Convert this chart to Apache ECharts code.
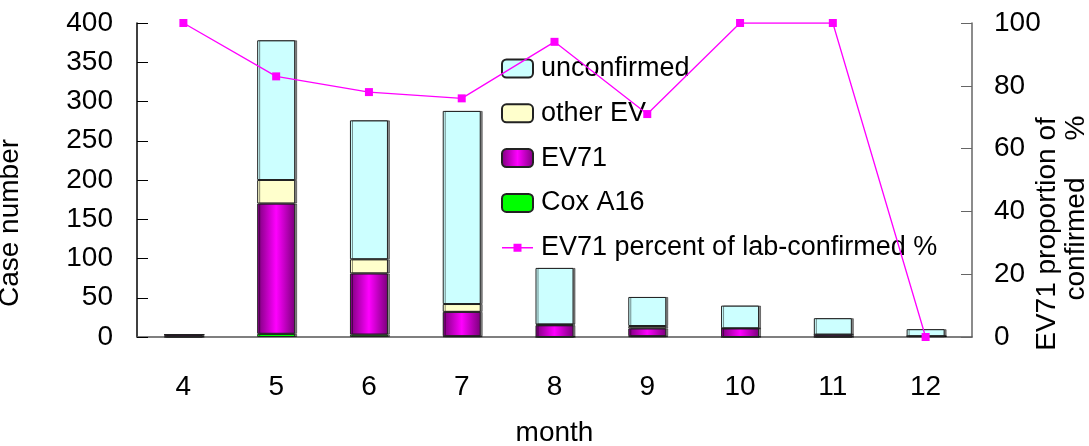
<!DOCTYPE html>
<html>
<head>
<meta charset="utf-8">
<script src="https://cdn.jsdelivr.net/npm/echarts@6/dist/echarts.min.js"></script>
<style>
html,body{margin:0;padding:0;background:#fff;}
#chart{width:1089px;height:446px;}
</style>
</head>
<body>
<div id="chart"></div>
<script>
var months = ['4', '5', '6', '7', '8', '9', '10', '11', '12'];
var coxA16 = [0, 4, 3, 1, 0, 1, 0, 0, 1];
var ev71 = [3, 166, 78, 31, 15, 10, 11, 3, 0];
var otherEV = [0, 30, 18, 10, 1, 3, 0, 0, 0];
var unconfirmed = [0, 178, 177, 246, 72, 37, 29, 21, 9];
var ev71Percent = [100, 83, 78, 76, 94, 71, 100, 100, 0];
var leftTicks = [0, 400, 50];
var rightTicks = [0, 100, 20];

var FONT = 'Liberation Sans, Arial, sans-serif';
var chart = echarts.init(document.getElementById('chart'));

function barStyle(color) {
  return {
    color: color,
    borderColor: '#222',
    borderWidth: 1,
    shadowColor: 'rgba(0,0,0,0.45)',
    shadowOffsetX: 2,
    shadowOffsetY: 0,
    shadowBlur: 0
  };
}

var ev71Grad = new echarts.graphic.LinearGradient(0, 0, 1, 0, [
  {offset: 0, color: '#7a007a'},
  {offset: 0.5, color: '#ff00ff'},
  {offset: 1, color: '#7a007a'}
]);

var lineIcon = 'path://M0,3.75H11.5V0.5H19.5V3.75H31V5.25H19.5V8.5H11.5V5.25H0Z';

var option = {
  backgroundColor: '#fff',
  animation: false,
  textStyle: {fontFamily: FONT, color: '#000'},
  grid: {left: 137, right: 117, top: 23, bottom: 109, containLabel: false, outerBoundsMode: 'none'},
  legend: {
    orient: 'vertical',
    left: 496,
    top: 50,
    itemWidth: 31,
    itemHeight: 18,
    itemGap: 17.8,
    textStyle: {fontFamily: FONT, fontSize: 27, color: '#000', padding: [0, 0, 0, 3]},
    data: [
      'unconfirmed', 'other EV', 'EV71', 'Cox A16',
      {name: 'EV71 percent of lab-confirmed %', icon: lineIcon}
    ]
  },
  xAxis: {
    type: 'category',
    data: months,
    axisLine: {lineStyle: {color: '#555', width: 1.5}},
    axisTick: {inside: true, length: 9, lineStyle: {color: '#555'}},
    axisLabel: {fontSize: 28, color: '#000', fontFamily: FONT, margin: 36},
    name: 'month',
    nameLocation: 'middle',
    nameGap: 82,
    nameTextStyle: {fontSize: 28, color: '#000', fontFamily: FONT}
  },
  yAxis: [
    {
      type: 'value',
      min: leftTicks[0], max: leftTicks[1], interval: leftTicks[2],
      axisLine: {show: true, lineStyle: {color: '#000', width: 1.5}},
      axisTick: {show: true, inside: true, length: 11, lineStyle: {color: '#000'}},
      splitLine: {show: false},
      axisLabel: {fontSize: 28, color: '#000', fontFamily: FONT, margin: 24}
    },
    {
      type: 'value',
      min: rightTicks[0], max: rightTicks[1], interval: rightTicks[2],
      position: 'right',
      axisLine: {show: true, lineStyle: {color: '#666', width: 1.5}},
      axisTick: {show: true, inside: true, length: 11, lineStyle: {color: '#666'}},
      splitLine: {show: false},
      axisLabel: {fontSize: 28, color: '#000', fontFamily: FONT, margin: 22}
    }
  ],
  series: [
    {name: 'Cox A16', type: 'bar', stack: 'a', barWidth: 38, data: coxA16, itemStyle: barStyle('#00ff00')},
    {name: 'EV71', type: 'bar', stack: 'a', barWidth: 38, data: ev71, itemStyle: barStyle(ev71Grad)},
    {name: 'other EV', type: 'bar', stack: 'a', barWidth: 38, data: otherEV, itemStyle: barStyle('#ffffcc')},
    {name: 'unconfirmed', type: 'bar', stack: 'a', barWidth: 38, data: unconfirmed, itemStyle: barStyle('#ccffff')},
    {
      name: 'EV71 percent of lab-confirmed %', type: 'line', yAxisIndex: 1,
      data: ev71Percent,
      symbol: 'rect', symbolSize: 8,
      lineStyle: {color: '#ff00ff', width: 1.3},
      itemStyle: {color: '#ff00ff'},
      z: 5
    }
  ],
  graphic: [
    {
      type: 'text', x: 24, y: 223, rotation: Math.PI / 2,
      style: {text: 'Case number', fontSize: 28, fontFamily: FONT, fill: '#000', align: 'center', verticalAlign: 'bottom'}
    },
    {
      type: 'text', x: 1061, y: 234, rotation: Math.PI / 2,
      style: {text: 'EV71 proportion of', fontSize: 28, fontFamily: FONT, fill: '#000', align: 'center', verticalAlign: 'bottom'}
    },
    {
      type: 'text', x: 1090, y: 239, rotation: Math.PI / 2,
      style: {text: 'confirmed', fontSize: 28, fontFamily: FONT, fill: '#000', align: 'center', verticalAlign: 'bottom'}
    },
    {
      type: 'text', x: 1090, y: 128, rotation: Math.PI / 2,
      style: {text: '%', fontSize: 28, fontFamily: FONT, fill: '#000', align: 'center', verticalAlign: 'bottom'}
    }
  ]
};
chart.setOption(option);
</script>
</body>
</html>
